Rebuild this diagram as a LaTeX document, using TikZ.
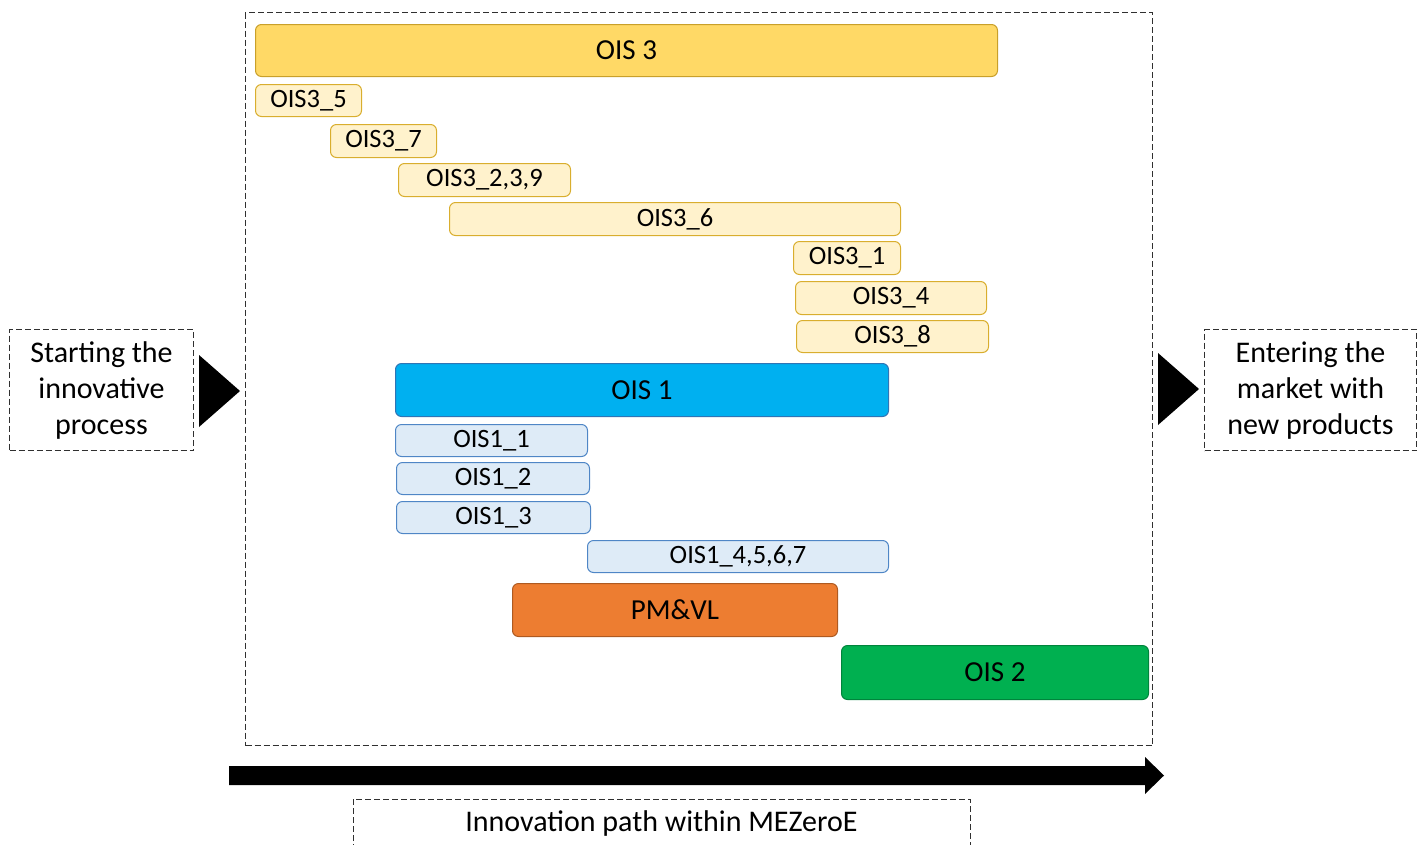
\documentclass[tikz,border=0pt]{standalone}
\usepackage{fontspec}
\setmainfont{Carlito}
\usetikzlibrary{positioning}
\definecolor{ydark}{HTML}{FFD966}
\definecolor{ydarkb}{HTML}{C9A02A}
\definecolor{ylight}{HTML}{FFF2CC}
\definecolor{ylightb}{HTML}{D9AE2E}
\definecolor{bdark}{HTML}{00B0F0}
\definecolor{bdarkb}{HTML}{2F75B5}
\definecolor{blight}{HTML}{DEEBF7}
\definecolor{blightb}{HTML}{4F86C6}
\definecolor{orng}{HTML}{ED7D31}
\definecolor{orngb}{HTML}{AE5A21}
\definecolor{grn}{HTML}{00B050}
\definecolor{grnb}{HTML}{00843C}
\definecolor{dashc}{HTML}{303030}
\tikzset{
  bar/.style={rounded corners=6pt, line width=1pt, inner sep=0pt, anchor=north west, align=center},
  bigbar/.style={bar, font=\fontsize{29}{34}\selectfont},
  smallbar/.style={bar, font=\fontsize{26.5}{30}\selectfont},
  y3/.style={bigbar, fill=ydark, draw=ydarkb},
  y3s/.style={smallbar, fill=ylight, draw=ylightb},
  b1/.style={bigbar, fill=bdark, draw=bdarkb},
  b1s/.style={smallbar, fill=blight, draw=blightb},
  pm/.style={bigbar, fill=orng, draw=orngb},
  g2/.style={bigbar, fill=grn, draw=grnb},
  dashbox/.style={draw=dashc, line width=1pt, dash pattern=on 6pt off 3pt},
  sidelabel/.style={dashbox, anchor=north west, inner sep=0pt, align=center, font=\fontsize{30}{36}\selectfont},
  tri/.style={fill=black}
}
\begin{document}
\begin{tikzpicture}[x=1pt,y=-1pt]
\useasboundingbox (0,0) rectangle (1424,844);
% main frame
\node[dashbox, anchor=north west, inner sep=0pt, minimum width=907pt, minimum height=733pt] (frame) at (245,12) {};
% OIS 3 group
\node[y3, minimum width=742pt, minimum height=52pt] (ois3) at (255,24) {OIS 3};
\node[y3s, minimum width=106pt, minimum height=32pt] (o35) at (255,84) {OIS3\_5};
\node[y3s, minimum width=106pt, minimum height=33pt] (o37) at (330,124) {OIS3\_7};
\node[y3s, minimum width=172pt, minimum height=33pt] (o3239) at (398,163) {OIS3\_2,3,9};
\node[y3s, minimum width=451pt, minimum height=33pt] (o36) at (449,202) {OIS3\_6};
\node[y3s, minimum width=107pt, minimum height=33pt] (o31) at (793,241) {OIS3\_1};
\node[y3s, minimum width=191pt, minimum height=33pt] (o34) at (795,281) {OIS3\_4};
\node[y3s, minimum width=192pt, minimum height=32pt] (o38) at (796,320) {OIS3\_8};
% OIS 1 group
\node[b1, minimum width=493pt, minimum height=53pt] (ois1) at (395,363) {OIS 1};
\node[b1s, minimum width=192pt, minimum height=32pt] (o11) at (395,424) {OIS1\_1};
\node[b1s, minimum width=193pt, minimum height=32pt] (o12) at (396,462) {OIS1\_2};
\node[b1s, minimum width=194pt, minimum height=32pt] (o13) at (396,501) {OIS1\_3};
\node[b1s, minimum width=301pt, minimum height=32pt] (o14) at (587,540) {OIS1\_4,5,6,7};
% PM&VL and OIS 2
\node[pm, minimum width=325pt, minimum height=53pt] (pmvl) at (512,583) {PM\&VL};
\node[g2, minimum width=307pt, minimum height=54pt] (ois2) at (841,645) {OIS 2};
% side labels
\node[sidelabel, minimum width=184pt, minimum height=121pt] (start) at (9,329) {Starting the\\innovative\\process};
\node[sidelabel, minimum width=212pt, minimum height=121pt] (enter) at (1204,329) {Entering the\\market with\\new products};
% triangles
\coordinate (lt1) at (199,355);
\coordinate (lt2) at (240,391);
\coordinate (lt3) at (199,427);
\fill[tri] (lt1) -- (lt2) -- (lt3) -- cycle;
\coordinate (rt1) at (1158,353);
\coordinate (rt2) at (1199,389);
\coordinate (rt3) at (1158,425);
\fill[tri] (rt1) -- (rt2) -- (rt3) -- cycle;
% big arrow
\fill[black] (229,766) -- (1145,766) -- (1145,757) -- (1164,775.5) -- (1145,794) -- (1145,785) -- (229,785) -- cycle;
% bottom label
\coordinate (bl1) at (353,850);
\coordinate (bl2) at (353,799);
\coordinate (bl3) at (970,799);
\coordinate (bl4) at (970,850);
\draw[dashbox] (bl1) -- (bl2) -- (bl3) -- (bl4);
\node[font=\fontsize{30}{34}\selectfont, inner sep=0pt] (path) at (661.5,823) {Innovation path within MEZeroE};
\end{tikzpicture}
\end{document}
